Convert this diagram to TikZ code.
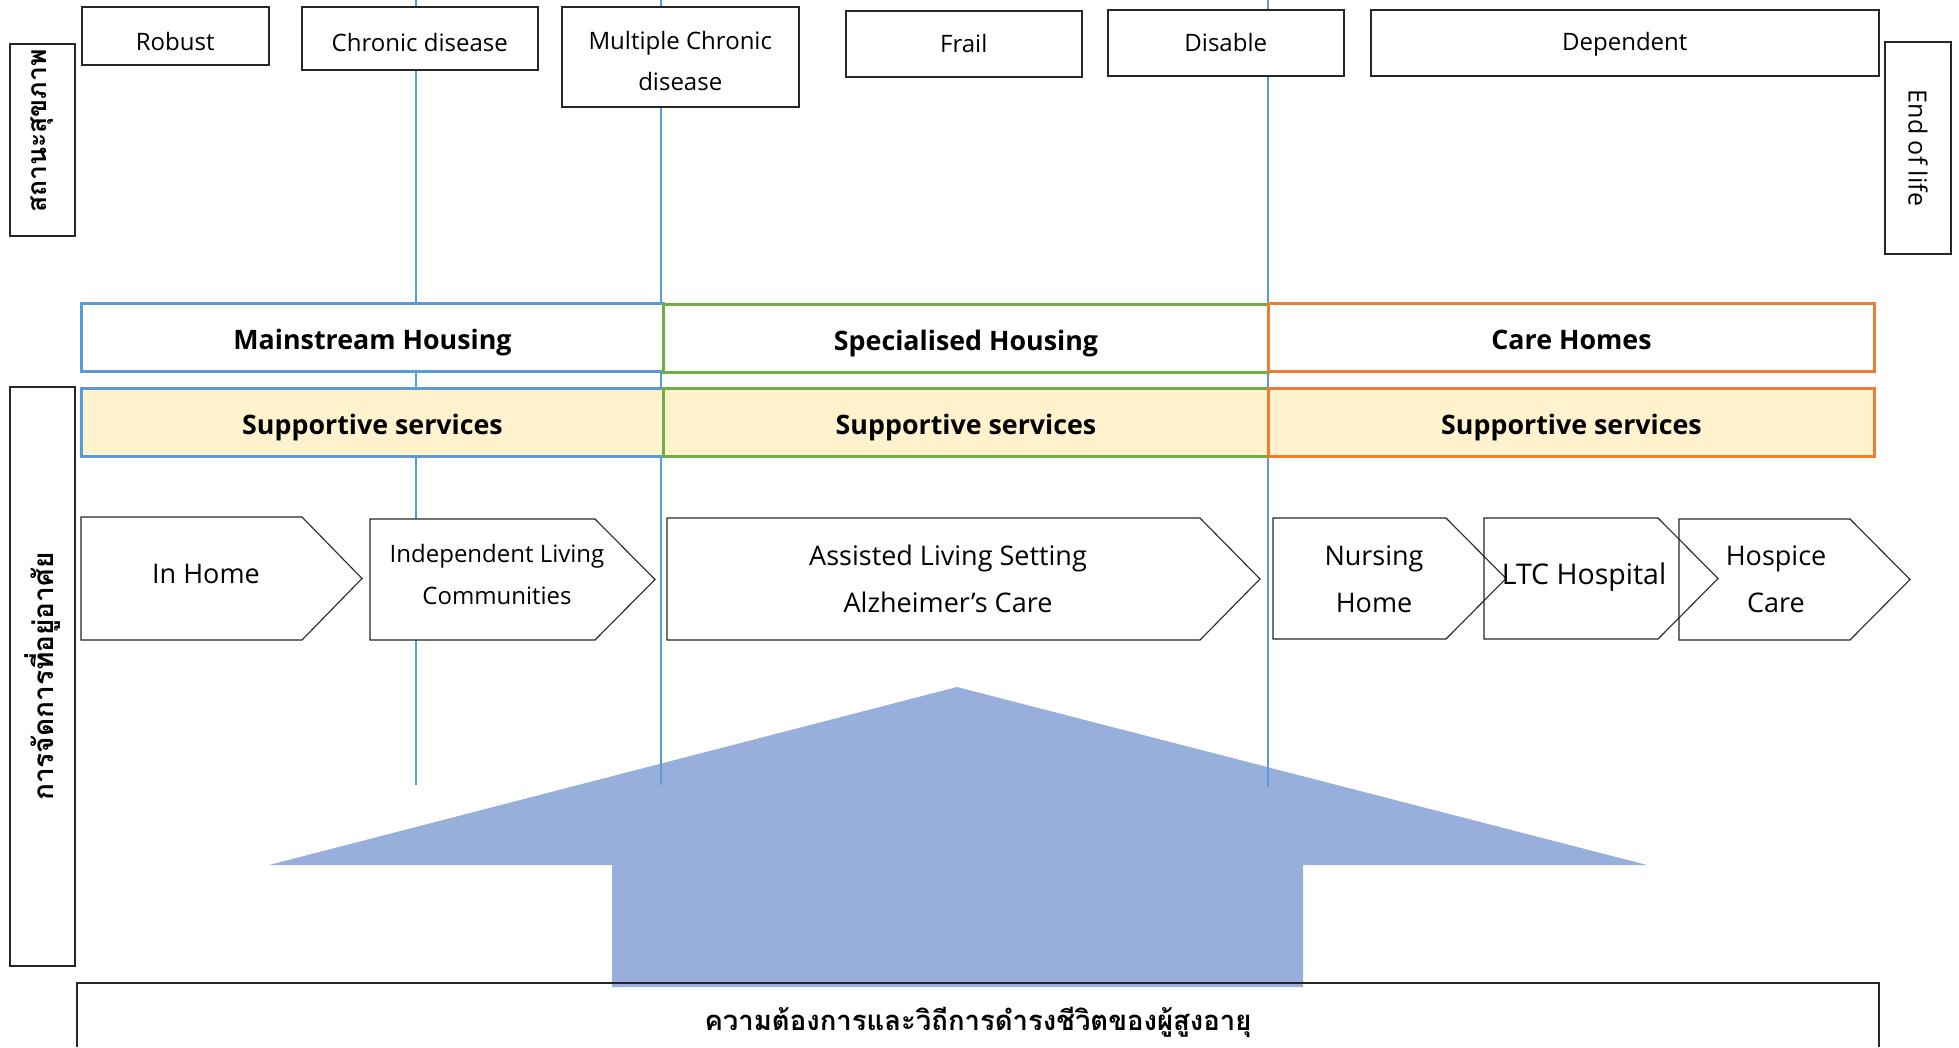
\documentclass[tikz,border=0pt]{standalone}
\usepackage{fontspec}
\setmainfont{Open Sans}
\newfontfamily\thaifont[Script=Thai]{Loma}
\definecolor{hblue}{HTML}{5B9BD5}
\definecolor{hgreen}{HTML}{70AD47}
\definecolor{horange}{HTML}{ED7D31}
\definecolor{svcfill}{HTML}{FFF2CC}
\definecolor{arrowfill}{RGB}{152,175,220}
\definecolor{guide}{HTML}{5B9BD5}

% outline of a right-pointing chevron: left, top, tip x, bottom
\newcommand\chevpath[4]{(#1,#2) -- ({#3-60},#2) -- (#3,{(#2+#4)/2}) -- ({#3-60},#4) -- (#1,#4) -- cycle}

\begin{document}
\begin{tikzpicture}[x=1pt,y=-1pt,
  stage/.style={draw=black!85, line width=1.5pt, fill=white, inner sep=0pt,
    anchor=north west, align=center, font=\fontsize{24}{41}\selectfont},
  stagetext/.style={anchor=center, inner sep=0pt, align=center,
    font=\fontsize{24}{41}\selectfont},
  sidebox/.style={draw=black!85, line width=1.5pt, fill=white, inner sep=0pt,
    anchor=center, align=center},
  thaibold/.style={font=\thaifont\bfseries\fontsize{28}{32}\selectfont},
  housing/.style={line width=3pt, fill=white, inner sep=0pt, anchor=north west,
    font=\bfseries\fontsize{26.8}{30}\selectfont},
  service/.style={housing, fill=svcfill},
  guideline/.style={guide, line width=1.2pt},
  chevshape/.style={draw=black!85, line width=1.1pt},
  chevtext/.style={align=center, inner sep=0pt, font=\fontsize{27}{47}\selectfont},
  lift/.style={text height=0.72em+#1, text depth=0pt}
]
\useasboundingbox (0,0) rectangle (1959,1047);

% large upward arrow
\fill[arrowfill] (957,687) -- (1647,865) -- (1303,865) -- (1303,987)
  -- (612,987) -- (612,865) -- (269,865) -- cycle;

% guide lines between health stages
\coordinate (cTop) at (416,0);  \coordinate (cEnd) at (416,785);
\coordinate (mTop) at (661,0);  \coordinate (mEnd) at (661,785);
\coordinate (dTop) at (1268,0); \coordinate (dEnd) at (1268,787);
\draw[guideline] (cTop) -- (cEnd);
\draw[guideline] (mTop) -- (mEnd);
\draw[guideline] (dTop) -- (dEnd);

% health stages
\node[stage, minimum width=187pt, minimum height=58pt] (robust) at (81,6) {};
\node[stage, minimum width=236pt, minimum height=63pt] (chronic) at (301,6) {};
\node[stage, minimum width=237pt, minimum height=100pt] (multi) at (561,6) {};
\node[stage, minimum width=236pt, minimum height=66pt] (frail) at (845,10) {};
\node[stage, minimum width=236pt, minimum height=66pt] (disable) at (1107,9) {};
\node[stage, minimum width=508pt, minimum height=66pt] (dependent) at (1370,9) {};
\node[stagetext] (robustTxt) at ([yshift=-6pt]robust.center) {Robust};
\node[stagetext] (chronicTxt) at ([yshift=-4pt]chronic.center) {Chronic disease};
\node[stagetext] (multiTxt) at ([yshift=-4pt]multi.center) {Multiple Chronic\\disease};
\node[stagetext] (frailTxt) at ([yshift=0pt]frail.center) {Frail};
\node[stagetext] (disableTxt) at ([yshift=0pt]disable.center) {Disable};
\node[stagetext] (dependentTxt) at ([yshift=-2pt]dependent.center) {Dependent};
\node[sidebox, rotate=-90, minimum width=212pt, minimum height=66pt,
  font=\fontsize{25}{28}\selectfont] (endlife) at (1918,148) {End of life};

% row labels
\node[sidebox, minimum width=65pt, minimum height=192pt] (health) at (42.5,140) {};
\node[rotate=90, inner sep=0pt, font=\thaifont\bfseries\fontsize{26.5}{30}\selectfont]
  (healthTxt) at ([yshift=9pt]health.center) {สถานะสุขภาพ};
\node[sidebox, minimum width=65pt, minimum height=579pt] (housingLbl) at (42.5,676.5) {};
\node[rotate=90, thaibold, inner sep=0pt] (housingTxt) at (housingLbl.center) {การจัดการที่อยู่อาศัย};

% housing types
\node[housing, draw=hblue, minimum width=582pt, minimum height=68pt, lift=16pt] (mainstream) at (80,302) {Mainstream Housing};
\node[housing, draw=hgreen, minimum width=605pt, minimum height=68pt, lift=16pt] (special) at (662,303) {Specialised Housing};
\node[housing, draw=horange, minimum width=606pt, minimum height=68pt, lift=16pt] (carehomes) at (1267,302) {Care Homes};

% supportive services
\node[service, draw=hblue, minimum width=582pt, minimum height=68pt, lift=17pt] (svcA) at (80,387) {Supportive services};
\node[service, draw=hgreen, minimum width=605pt, minimum height=68pt, lift=17pt] (svcB) at (662,387) {Supportive services};
\node[service, draw=horange, minimum width=606pt, minimum height=68pt, lift=17pt] (svcC) at (1267,387) {Supportive services};

% residential settings as chevrons
\foreach \l/\t/\r/\b in {81/517/362/640, 370/519/655/640, 667/518/1260/640,
    1273/518/1506/639, 1484/518/1718/639, 1679/519/1910/640}
  \fill[white] \chevpath{\l}{\t}{\r}{\b};
\foreach \l/\t/\r/\b in {81/517/362/640, 370/519/655/640, 667/518/1260/640,
    1273/518/1506/639, 1484/518/1718/639, 1679/519/1910/640}
  \draw[chevshape] \chevpath{\l}{\t}{\r}{\b};
\node[chevtext] (inhome) at (206,574) {In Home};
\node[chevtext, font=\fontsize{24}{42}\selectfont] (indep) at (497,574) {Independent Living\\Communities};
\node[chevtext] (assisted) at (948,579) {Assisted Living Setting\\Alzheimer’s Care};
\node[chevtext] (nursing) at (1374,579) {Nursing\\Home};
\node[chevtext, font=\fontsize{28.5}{47}\selectfont] (ltc) at (1584,577) {LTC Hospital};
\node[chevtext] (hospice) at (1776,579) {Hospice\\Care};

% needs and lifestyle of older people
\draw[black!85, line width=1.5pt] (77,1047) -- (77,983) -- (1879,983) -- (1879,1047);
\node[inner sep=0pt, font=\thaifont\bfseries\fontsize{27.5}{32}\selectfont]
  (needs) at (978,1022) {ความต้องการและวิถีการดำรงชีวิตของผู้สูงอายุ};
\end{tikzpicture}
\end{document}
